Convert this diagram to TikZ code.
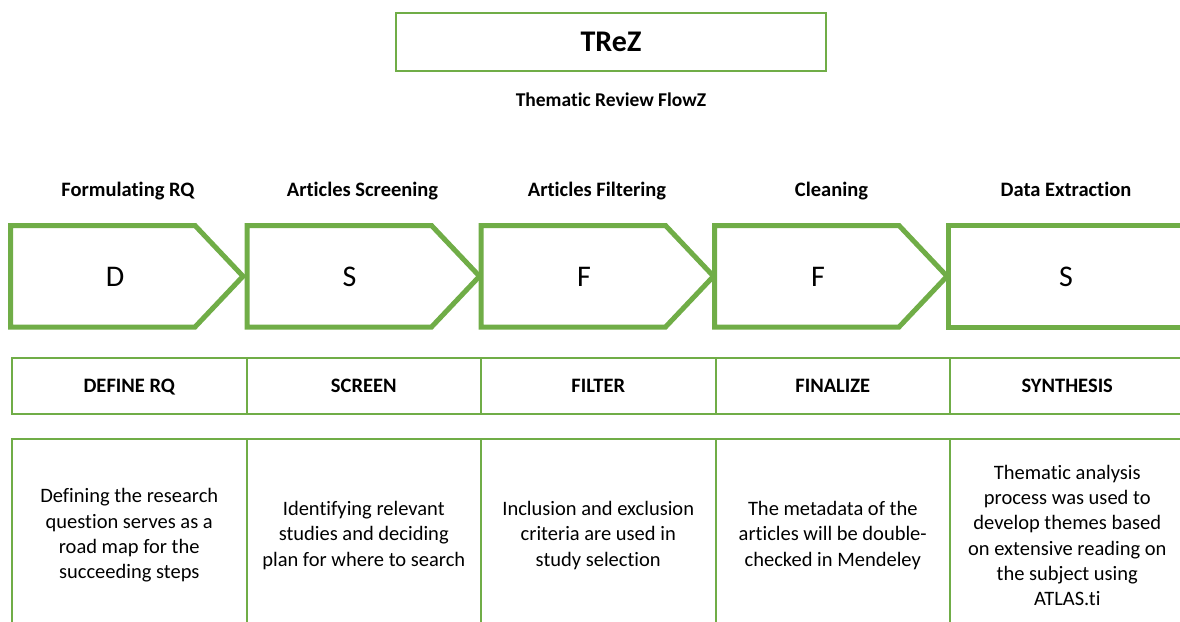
\documentclass[tikz,border=0pt]{standalone}
\usepackage{fontspec}
\setmainfont{Carlito}[Ligatures=NoCommon]
\definecolor{grn}{HTML}{70AD47}
\tikzset{
  pent/.style={draw=grn, line width=5pt, line join=miter, fill=white},
  letter/.style={font=\fontsize{30}{36}\selectfont, inner sep=0pt, text height=19.3pt, text depth=0pt},
  headlbl/.style={font=\fontsize{20.5}{25}\selectfont\bfseries, inner sep=0pt, text height=13.2pt, text depth=0pt},
  cellhead/.style={draw=grn, line width=2pt, minimum width=234.5pt, minimum height=56pt, inner sep=0pt, anchor=north west, text height=13.2pt, text depth=0pt, font=\fontsize{20.5}{25}\selectfont\bfseries},
  cellbody/.style={draw=grn, line width=2pt, minimum width=234.5pt, minimum height=193.3pt, inner sep=0pt, anchor=north west, align=center, font=\fontsize{20.5}{25.3}\selectfont},
}
\begin{document}
\begin{tikzpicture}[x=1pt,y=-1pt]
\useasboundingbox (0,0) rectangle (1180,621);
\begin{scope}
\clip (0,0) rectangle (1180,621);
% title
\node[draw=grn, line width=2pt, minimum width=430pt, minimum height=57.5pt, inner sep=0pt, text height=19.3pt, text depth=0pt, font=\fontsize{30}{36}\selectfont\bfseries] (title) at (611,42) {TReZ};
\node[font=\fontsize{19.5}{24}\selectfont\bfseries, inner sep=0pt, text height=12.6pt, text depth=0pt] (subtitle) at (611,100) {Thematic Review FlowZ};
% stage headings
\node[headlbl] (h1) at (128,190) {Formulating RQ};
\node[headlbl] (h2) at (362.5,190) {Articles Screening};
\node[headlbl] (h3) at (597,190) {Articles Filtering};
\node[headlbl] (h4) at (831.5,190) {Cleaning};
\node[headlbl] (h5) at (1066,190) {Data Extraction};
% pentagons
\foreach \L in {10.5,247,481,714.5} {
  \draw[pent] (\L,225.5) -- ({\L+184.5},225.5) -- ({\L+232.5},276.25) -- ({\L+184.5},327) -- (\L,327) -- cycle;
}
\draw[pent] (948.5,225.5) rectangle (1200,327);
\node[letter] (p1) at (115,277) {D};
\node[letter] (p2) at (349.5,277) {S};
\node[letter] (p3) at (584,277) {F};
\node[letter] (p4) at (818,277) {F};
\node[letter] (p5) at (1066,277) {S};
% table header row
\node[cellhead] (c1) at (11,356.5) {DEFINE RQ};
\node[cellhead] (c2) at (245.5,356.5) {SCREEN};
\node[cellhead] (c3) at (480,356.5) {FILTER};
\node[cellhead] (c4) at (714.5,356.5) {FINALIZE};
\node[cellhead] (c5) at (949,356.5) {SYNTHESIS};
% table body row
\node[cellbody] (b1) at (11,437.7) {Defining the research\\question serves as a\\road map for the\\succeeding steps};
\node[cellbody] (b2) at (245.5,437.7) {Identifying relevant\\studies and deciding\\plan for where to search};
\node[cellbody] (b3) at (480,437.7) {Inclusion and exclusion\\criteria are used in\\study selection};
\node[cellbody] (b4) at (714.5,437.7) {The metadata of the\\articles will be double-\\checked in Mendeley};
\node[cellbody] (b5) at (949,437.7) {Thematic analysis\\process was used to\\develop themes based\\on extensive reading on\\the subject using\\ATLAS.ti};
\end{scope}
\end{tikzpicture}
\end{document}
